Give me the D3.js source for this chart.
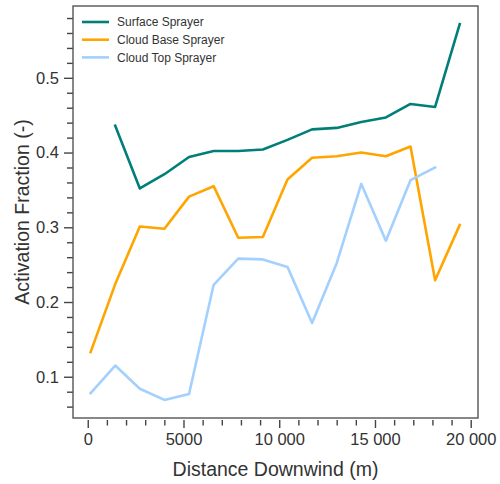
<!DOCTYPE html>
<html>
<head>
<meta charset="utf-8">
<script src="https://cdn.jsdelivr.net/npm/d3@7"></script>
<style>
  html, body { margin: 0; padding: 0; background: #fff; }
  svg { display: block; font-family: "Liberation Sans", Arial, Helvetica, sans-serif; }
</style>
</head>
<body>
<svg id="chart" width="500" height="484"></svg>
<script>
// ---- data ----
const distances = [150, 1435, 2720, 4005, 5290, 6575, 7860, 9145, 10430, 11715, 13000, 14285, 15570, 16855, 18140, 19425];
const surfaceSprayer = [null, 0.436, 0.352, 0.371, 0.394, 0.402, 0.402, 0.404, 0.417, 0.431, 0.433, 0.441, 0.447, 0.465, 0.461, 0.572];
const cloudBaseSprayer = [0.133, 0.224, 0.301, 0.298, 0.341, 0.355, 0.286, 0.287, 0.364, 0.393, 0.395, 0.400, 0.395, 0.408, 0.229, 0.303];
const cloudTopSprayer = [0.078, 0.115, 0.084, 0.069, 0.077, 0.223, 0.258, 0.257, 0.247, 0.172, 0.252, 0.358, 0.282, 0.363, 0.380, null];
const seriesNames = ["Surface Sprayer", "Cloud Base Sprayer", "Cloud Top Sprayer"];
const seriesColors = ["#007f7a", "#ffa500", "#a3d0fe"];
const xTicks = [0, 5000, 10000, 15000, 20000];
const yTicks = [0.1, 0.2, 0.3, 0.4, 0.5];
const xLabel = "Distance Downwind (m)";
const yLabel = "Activation Fraction (-)";

// ---- layout ----
const svg = d3.select("#chart");
const L = 73, R = 478, T = 6, B = 418;
const x = d3.scaleLinear().domain([-770, 20380]).range([L, R]);
const y = d3.scaleLinear().domain([0.0448, 0.5961]).range([B, T]);
const axisColor = "#444";
const textColor = "#333";

// minor ticks
const xMinor = d3.range(0, 20001, 1000).filter(v => v % 5000 !== 0);
const yMinor = d3.range(0.06, 0.59, 0.02).map(v => +v.toFixed(2)).filter(v => Math.abs(v * 10 - Math.round(v * 10)) > 1e-6);

// Y axis
const yAxis = d3.axisLeft(y).tickValues(yTicks).tickSize(9).tickSizeOuter(0)
  .tickPadding(5).tickFormat(d3.format(".1f"));
const gy = svg.append("g").attr("transform", `translate(${L},0)`).call(yAxis);
gy.select(".domain").remove();
gy.selectAll(".tick line").attr("stroke", axisColor).attr("stroke-width", 1.4);
gy.selectAll(".tick text").attr("fill", textColor).style("font-size", "16.5px");
const gyMinor = svg.append("g").attr("transform", `translate(${L},0)`)
  .call(d3.axisLeft(y).tickValues(yMinor).tickSize(6).tickSizeOuter(0).tickFormat(""));
gyMinor.select(".domain").remove();
gyMinor.selectAll(".tick line").attr("stroke", axisColor).attr("stroke-width", 1.4);

// X axis (offset slightly below frame)
const fmtX = v => v >= 10000 ? d3.format(",")(v).replace(/,/g, " ") : String(v);
const xAxis = d3.axisBottom(x).tickValues(xTicks).tickSize(8).tickSizeOuter(0)
  .tickPadding(5).tickFormat(fmtX);
const gx = svg.append("g").attr("transform", `translate(0,${B + 2})`).call(xAxis);
gx.select(".domain").remove();
gx.selectAll(".tick line").attr("stroke", axisColor).attr("stroke-width", 1.4);
gx.selectAll(".tick text").attr("fill", textColor).style("font-size", "16.5px");
const gxMinor = svg.append("g").attr("transform", `translate(0,${B + 2})`)
  .call(d3.axisBottom(x).tickValues(xMinor).tickSize(5.5).tickSizeOuter(0).tickFormat(""));
gxMinor.select(".domain").remove();
gxMinor.selectAll(".tick line").attr("stroke", axisColor).attr("stroke-width", 1.4);

// frame
svg.append("rect").attr("x", L).attr("y", T).attr("width", R - L).attr("height", B - T)
  .attr("fill", "none").attr("stroke", "#555").attr("stroke-width", 1.4);

// lines
const allSeries = [surfaceSprayer, cloudBaseSprayer, cloudTopSprayer];
const line = d3.line()
  .defined(d => d[1] !== null)
  .x(d => x(d[0])).y(d => y(d[1]));
allSeries.forEach((vals, i) => {
  const pts = distances.map((dd, j) => [dd, vals[j]]);
  svg.append("path").datum(pts)
    .attr("d", line)
    .attr("fill", "none")
    .attr("stroke", seriesColors[i])
    .attr("stroke-width", 2.6)
    .attr("stroke-linejoin", "round")
    .attr("stroke-linecap", "square");
});

// legend
const lg = svg.append("g");
seriesNames.forEach((name, i) => {
  const yy = 22 + i * 17.7;
  lg.append("line").attr("x1", 82).attr("x2", 109).attr("y1", yy).attr("y2", yy)
    .attr("stroke", seriesColors[i]).attr("stroke-width", 2.6);
  lg.append("text").attr("x", 117).attr("y", yy).attr("dy", "0.35em")
    .attr("fill", textColor).style("font-size", "12px").text(name);
});

// axis labels
svg.append("text").attr("x", (L + R) / 2).attr("y", 476)
  .attr("text-anchor", "middle").attr("fill", textColor)
  .style("font-size", "19.5px").text(xLabel);
svg.append("text")
  .attr("transform", `translate(28.5,${(T + B) / 2}) rotate(-90)`)
  .attr("text-anchor", "middle").attr("fill", textColor)
  .style("font-size", "19.5px").text(yLabel);
</script>
</body>
</html>
